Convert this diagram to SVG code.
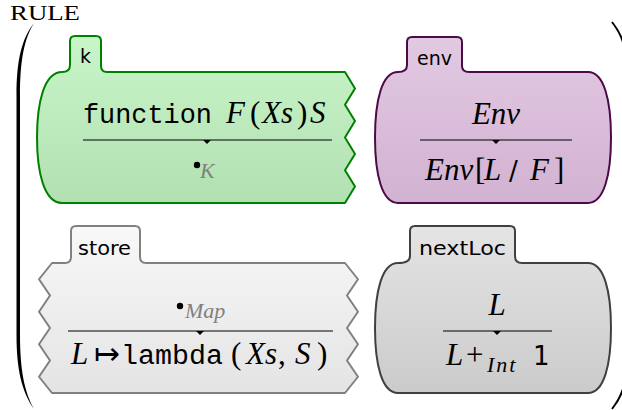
<svg xmlns="http://www.w3.org/2000/svg" width="622" height="410" viewBox="0 0 622 410">
<defs>
<linearGradient id="gK" x1="0" y1="0" x2="0" y2="1"><stop offset="0" stop-color="#c9f6c9"/><stop offset="1" stop-color="#b3e0b3"/></linearGradient>
<linearGradient id="gE" x1="0" y1="0" x2="0" y2="1"><stop offset="0" stop-color="#e2c9e2"/><stop offset="1" stop-color="#d2b2d2"/></linearGradient>
<linearGradient id="gS" x1="0" y1="0" x2="0" y2="1"><stop offset="0" stop-color="#f8f8f8"/><stop offset="1" stop-color="#e4e4e4"/></linearGradient>
<linearGradient id="gN" x1="0" y1="0" x2="0" y2="1"><stop offset="0" stop-color="#e4e4e4"/><stop offset="1" stop-color="#cbcbcb"/></linearGradient>
</defs>
<style>
.cell{stroke-width:2;stroke-linejoin:round}
.lbl{font-family:"DejaVu Sans",sans-serif;font-size:20px;fill:#000}
text{fill:#000}
.mi{font-family:"Liberation Serif",serif;font-style:italic;font-size:31px}
.rm{font-family:"Liberation Serif",serif;font-style:normal;font-size:31px}
.tt{font-family:"Liberation Mono",monospace;font-size:27px}
.sf{font-family:"DejaVu Sans",sans-serif;font-size:26px}
.sub{font-family:"Liberation Serif",serif;font-style:italic;font-size:22px}
.gray{fill:#808080}
.rule{stroke:#000;stroke-width:1.1}
.tick{fill:#000}
</style>

<text x="10" y="20" font-family="Liberation Serif, serif" font-size="20" textLength="70" lengthAdjust="spacingAndGlyphs">RULE</text>

<g id="brackets">
<path d="M34,23 C22,38 16.5,60 16.5,95 L16.5,335 C16.5,370 22,392 34,409 C24.5,392 20,370 20,335 L20,95 C20,60 24.5,38 34,23 Z" fill="#000"/>
<path d="M612,22 C616,27 620,33 623,42" fill="none" stroke="#000" stroke-width="2"/>
<path d="M612,409 C616,404 620,398 623,389" fill="none" stroke="#000" stroke-width="2"/>
</g>

<g id="k">
<path class="cell" fill="url(#gK)" stroke="#008000" d="M62,72 Q70,72 70,65 L70,41 Q70,36 75,36 L96,36 Q101,36 101,41 L101,66 Q101,72 107,72 L345,72 L355,88.4 L345,104.8 L355,121.1 L345,137.5 L355,153.9 L345,170.2 L355,186.6 L345,203 L62,203 C44,203 37,172 37,137.5 C37,103 44,72 62,72 Z"/>
<text class="lbl" x="80" y="63" textLength="11" lengthAdjust="spacingAndGlyphs">k</text>
<text class="tt" x="83" y="123" textLength="129" lengthAdjust="spacingAndGlyphs">function</text>
<text class="mi" x="226" y="123">F</text>
<text class="rm" x="250" y="123">(</text>
<text class="mi" x="262" y="123">Xs</text>
<text class="rm" x="297" y="123">)</text>
<text class="mi" x="310" y="123">S</text>
<line class="rule" x1="83" y1="140" x2="332" y2="140"/>
<path class="tick" d="M203,140 L211,140 L207,144 Z"/>
<circle cx="197" cy="165" r="3.2" fill="#000"/>
<text class="sub gray" x="200" y="178">K</text>
</g>

<g id="env">
<path class="cell" fill="url(#gE)" stroke="#4d0a47" d="M398,72 Q407,72 407,65 L407,42 Q407,37 412,37 L457,37 Q462,37 462,42 L462,66 Q462,72 469,72 L588,72 C604,72 611,100 611,137.5 C611,175 604,203 588,203 L398,203 C382,203 375,175 375,137.5 C375,100 382,72 398,72 Z"/>
<text class="lbl" x="417" y="65" textLength="35" lengthAdjust="spacingAndGlyphs">env</text>
<text class="mi" x="496" y="124" text-anchor="middle">Env</text>
<line class="rule" x1="420" y1="140" x2="572" y2="140"/>
<path class="tick" d="M492,140 L500,140 L496,144 Z"/>
<text class="mi" x="425" y="180">Env</text>
<text class="rm" x="475" y="180">[</text>
<text class="mi" x="484" y="180">L</text>
<text class="sf" x="509" y="180">/</text>
<text class="mi" x="530" y="180">F</text>
<text class="rm" x="554" y="180">]</text>
</g>

<g id="store">
<path class="cell" fill="url(#gS)" stroke="#808080" d="M52,263 L65,263 Q71,263 71,257 L71,231 Q71,226 76,226 L135,226 Q140,226 140,231 L140,257 Q140,263 146,263 L345,263 L358,279.25 L347,295.5 L358,311.75 L347,328 L358,344.25 L347,360.5 L358,376.75 L345,393 L52,393 L39,376.75 L50,360.5 L39,344.25 L50,328 L39,311.75 L50,295.5 L39,279.25 Z"/>
<text class="lbl" x="78" y="255" textLength="53" lengthAdjust="spacingAndGlyphs">store</text>
<circle cx="180" cy="306" r="3.2" fill="#000"/>
<text class="sub gray" x="185" y="318">Map</text>
<line class="rule" x1="68" y1="331" x2="333" y2="331"/>
<path class="tick" d="M196,331 L204,331 L200,335 Z"/>
<text class="mi" x="71" y="364">L</text>
<text class="rm" x="94" y="364">↦</text>
<text class="tt" x="121" y="364" textLength="102" lengthAdjust="spacingAndGlyphs">lambda</text>
<text class="rm" x="231" y="364">(</text>
<text class="mi" x="246" y="364">Xs</text>
<text class="rm" x="278" y="364">,</text>
<text class="mi" x="295" y="364">S</text>
<text class="rm" x="317" y="364">)</text>
</g>

<g id="nextLoc">
<path class="cell" fill="url(#gN)" stroke="#404040" d="M398,263 Q410,263 410,256 L410,231 Q410,226 415,226 L510,226 Q515,226 515,231 L515,256 Q515,263 522,263 L588,263 C604,263 611,291 611,328 C611,365 604,393 588,393 L398,393 C382,393 375,365 375,328 C375,291 382,263 398,263 Z"/>
<text class="lbl" x="419" y="255" textLength="87" lengthAdjust="spacingAndGlyphs">nextLoc</text>
<text class="mi" x="497" y="315" text-anchor="middle">L</text>
<line class="rule" x1="443" y1="331" x2="552" y2="331"/>
<path class="tick" d="M493,331 L501,331 L497,335 Z"/>
<text class="mi" x="446" y="365">L</text>
<text class="rm" x="466" y="365">+</text>
<text class="sub" x="487" y="372" letter-spacing="2">Int</text>
<text class="sf" x="533" y="365">1</text>
</g>
</svg>
